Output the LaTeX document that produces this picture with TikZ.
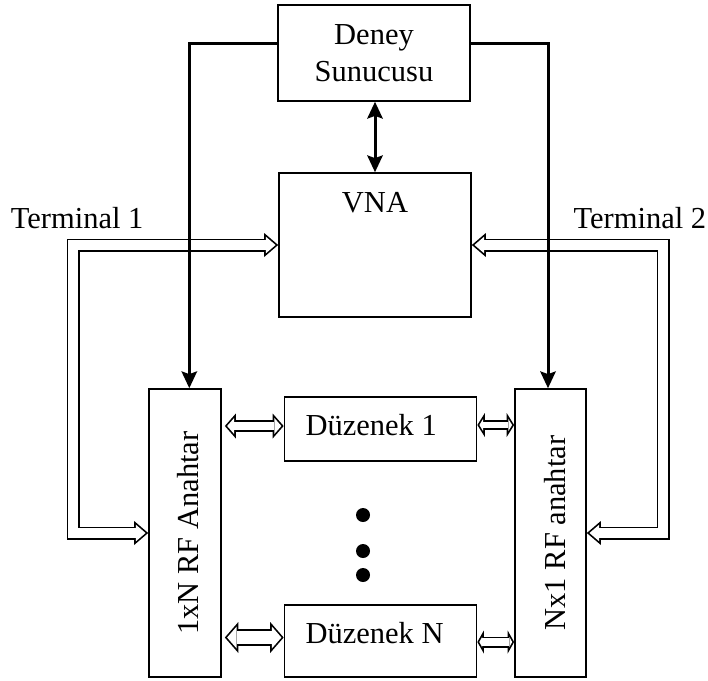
\documentclass[tikz,border=0pt]{standalone}
\usepackage{fontspec}
\setmainfont{Liberation Serif}
\usetikzlibrary{arrows.meta}

\tikzset{
  % hollow double-line arrow: #1 shaft width, #2 head width, #3 head length
  pipe/.style n args = {3}{
    /utils/exec = {%
      \pgfmathsetmacro\pipeoff{1.7/sin(atan((#2/2)/#3))}%
      \pgfmathsetmacro\pipelen{#3-1.7-\pipeoff}%
      \pgfmathsetmacro\pipewid{\pipelen*#2/#3}%
      \pgfmathsetmacro\pipein{#1-3.4}%
    },
    line width = #1pt,
    arrows = {Triangle[length=#3pt, width=#2pt, line width=0pt]-Triangle[length=#3pt, width=#2pt, line width=0pt]},
    postaction = {draw = white, line width = \pipein pt,
      shorten <=\pipeoff pt, shorten >=\pipeoff pt,
      arrows = {Triangle[length=\pipelen pt, width=\pipewid pt, line width=0pt]-Triangle[length=\pipelen pt, width=\pipewid pt, line width=0pt]}}
  }
}

\begin{document}
\begin{tikzpicture}[
            x = 1pt, y = -1pt, % one unit per pixel, y pointing down
            > = {Stealth[length=17pt, width=16pt, inset=3pt, line width=0pt]}, % arrow head style
            font = \fontsize{30.5}{37}\selectfont,
            line width = 1.7pt % line style
        ]

        \tikzstyle{box}=[
            draw = black,
            inner sep = 0pt
        ]
        \tikzstyle{ctl}=[line width = 3pt]

        \useasboundingbox (0,0) rectangle (708,680);

        % boxes
        \node[box, minimum width=192pt, minimum height=96pt, align=center] (srv) at (374,53) {Deney\\Sunucusu};
        \node[box, minimum width=192pt, minimum height=144pt] (vna) at (375,245) {};
        \node[box, minimum width=72pt, minimum height=288pt] (swl) at (185,533) {};
        \node[box, minimum width=71pt, minimum height=288pt] (swr) at (550.5,533) {};
        \node[box, minimum width=192pt, minimum height=64pt] (dz1) at (380.5,429) {};
        \node[box, minimum width=192pt, minimum height=72pt] (dzn) at (380.5,641) {};

        % texts in the boxes
        \node[anchor=north, inner sep=19pt] (vnatxt) at (vna.north) {VNA};
        \node[anchor=north west, inner xsep=21pt, inner ysep=17.2pt] (dz1txt) at (dz1.north west) {Düzenek 1};
        \node[anchor=north west, inner xsep=21pt, inner ysep=17.2pt] (dzntxt) at (dzn.north west) {Düzenek N};
        \node[rotate=90] (swltxt) at ([xshift=3.5pt]swl.center) {1xN RF Anahtar};
        \node[rotate=90] (swrtxt) at ([xshift=4.5pt]swr.center) {Nx1 RF anahtar};

        % terminal labels
        \node[anchor=base west, inner sep=0pt] (t1txt) at (10,228) {Terminal 1};
        \node[anchor=base east, inner sep=0pt] (t2txt) at (707,228) {Terminal 2};

        % RF paths
        \coordinate (t1) at (73,400);
        \coordinate (t2) at (663,400);
        \coordinate (a1) at ([yshift=3pt]dz1.west);
        \coordinate (b1) at ([yshift=4pt]dz1.east);
        \coordinate (an) at ([yshift=3.5pt]dzn.west);
        \coordinate (bn) at ([yshift=-1pt]dzn.east);

        \draw[pipe={13}{24}{14}] (vna.west) -| (t1) |- (swl.west);
        \draw[pipe={13}{24}{14}] (vna.east) -| (t2) |- (swr.east);
        \draw[pipe={12}{25}{11}] ([xshift=3pt]swl.east |- a1) -- (a1);
        \draw[pipe={9.5}{24}{7.5}] (b1) -- (swr.west |- b1);
        \draw[pipe={16.5}{31}{13.5}] ([xshift=3pt]swl.east |- an) -- (an);
        \draw[pipe={11}{23}{6.5}] (bn) -- (swr.west |- bn);

        % control lines
        \draw[ctl, ->] ([yshift=10pt]srv.west) -| ([xshift=4.3pt]swl.north);
        \draw[ctl, ->] ([yshift=10pt]srv.east) -| ([xshift=-2.5pt]swr.north);
        \draw[ctl, <->] (vna.north |- srv.south) -- (vna.north);

        % dots between the setups
        \foreach \y in {515,551,575}
            \fill (363,\y) circle (7pt);

  \end{tikzpicture}
\end{document}
